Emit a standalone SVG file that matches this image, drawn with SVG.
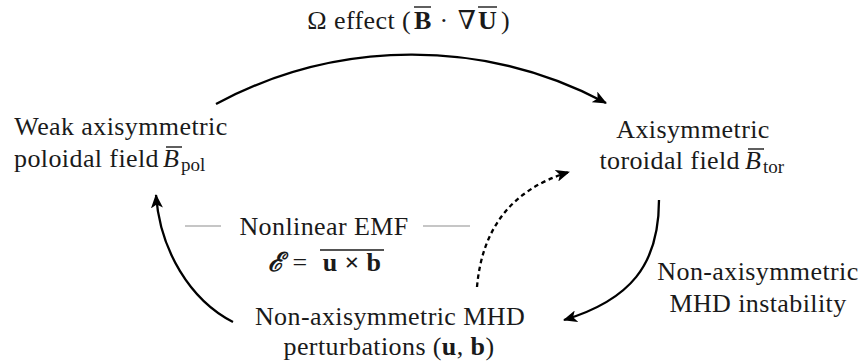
<svg xmlns="http://www.w3.org/2000/svg" width="864" height="361" viewBox="0 0 864 361">
<defs>
<style>
text{font-family:"Liberation Serif","Times New Roman","DejaVu Serif",serif;font-size:26px;fill:#1a1a1a;text-anchor:middle;letter-spacing:0.4px}
.s{text-anchor:start}
.e{text-anchor:end}
.b{font-weight:bold}
.i{font-style:italic}
.sub{font-size:19px;letter-spacing:0;text-anchor:start}
.arc{fill:none;stroke:#000;stroke-width:2.3}
.dot{stroke-dasharray:4.5 3.5}
.gray{stroke:#b3b3b3;stroke-width:1.5}
.ov{stroke:#1a1a1a;stroke-width:1.4}
</style>
<marker id="ah" viewBox="0 0 14 12" refX="13" refY="6" markerWidth="14" markerHeight="12" markerUnits="userSpaceOnUse" orient="auto">
<path d="M0,0 L14,6 L0,12 L3.5,6 Z" fill="#000"/>
</marker>
</defs>
<rect width="864" height="361" fill="#fff"/>
<g id="connectors">
<path class="arc" d="M216,104 A414,414 0 0,1 606,103" marker-end="url(#ah)"/>
<path class="arc" d="M659,200 C659,265 630,300 564,320" marker-end="url(#ah)"/>
<path class="arc" d="M233,322 C190,300 160,250 156,195" marker-end="url(#ah)"/>
<path class="arc dot" d="M477,287 C482,230 510,190 569,172" marker-end="url(#ah)"/>
</g>
<g id="omega-label">
<text class="e" x="411" y="29">Ω effect (</text>
<text class="s b" x="414" y="29">B</text>
<text x="444" y="29">·</text>
<text x="467" y="29">∇</text>
<text class="s b" x="478" y="29">U</text>
<text class="s" x="501" y="29">)</text>
<line class="ov" x1="414" y1="7" x2="431" y2="7"/>
<line class="ov" x1="478" y1="7" x2="497" y2="7"/>
</g>
<g id="node-poloidal">
<text x="121" y="135">Weak axisymmetric</text>
<text class="e" x="159" y="167">poloidal field</text>
<text class="s i" x="163" y="167">B</text>
<text class="sub" x="181" y="171">pol</text>
<line class="ov" x1="166" y1="147" x2="182" y2="147"/>
</g>
<g id="node-toroidal">
<text x="693" y="138">Axisymmetric</text>
<text class="e" x="740" y="169">toroidal field</text>
<text class="s i" x="745" y="169">B</text>
<text class="sub" x="763" y="173">tor</text>
<line class="ov" x1="748" y1="149" x2="764" y2="149"/>
</g>
<g id="node-perturbations">
<text x="390" y="325">Non-axisymmetric MHD</text>
<text x="389" y="355">perturbations (<tspan class="b">u</tspan>, <tspan class="b">b</tspan>)</text>
</g>
<g id="label-instability">
<text x="758" y="280">Non-axisymmetric</text>
<text x="758" y="312">MHD instability</text>
</g>
<g id="label-emf">
<line class="gray" x1="185" y1="226" x2="221" y2="226"/>
<line class="gray" x1="423" y1="226" x2="470" y2="226"/>
<text x="324" y="235">Nonlinear EMF</text>
<text class="b i" x="276" y="271">ℰ</text>
<text x="300" y="271">=</text>
<text class="b" x="352" y="271">u × b</text>
<line class="ov" x1="320" y1="250" x2="384" y2="250"/>
</g>
</svg>
